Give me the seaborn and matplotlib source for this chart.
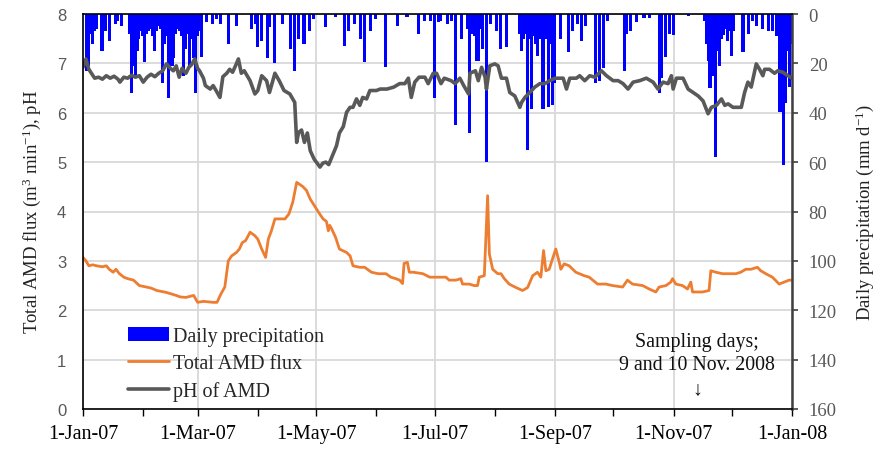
import numpy as np
import pandas as pd
import matplotlib
matplotlib.use("Agg")
import matplotlib.pyplot as plt
import matplotlib.dates as mdates
from matplotlib.patches import Patch
from matplotlib.lines import Line2D
import seaborn as sns

# ---------------- data (day offset from 1-Jan-2007, value) ----------------
start_date = "2007-01-01"
end_date = "2008-01-01"

precip_day = [1, 2, 3, 4, 5, 6, 9, 11, 13, 16, 17, 19, 23, 24, 25, 26, 27, 28, 29, 30,
              31, 32, 33, 34, 35, 36, 37, 38, 39, 40, 41, 42, 43, 44, 45, 46, 47, 48, 49, 50,
              51, 52, 53, 54, 55, 56, 57, 58, 59, 60, 63, 66, 68, 70, 74, 78, 86, 88, 89, 91,
              94, 95, 98, 102, 106, 108, 110, 113, 116, 118, 124, 129, 134, 136, 139, 142, 144, 147, 150, 155,
              161, 166, 172, 175, 178, 180, 182, 183, 187, 189, 191, 194, 197, 198, 199, 200, 201, 202, 203, 204,
              205, 207, 209, 212, 214, 217, 224, 225, 226, 227, 228, 229, 230, 231, 232, 233, 234, 235, 236, 237,
              238, 239, 240, 241, 242, 245, 249, 251, 254, 256, 258, 263, 265, 267, 269, 278, 279, 281, 284, 288,
              291, 296, 297, 299, 301, 303, 311, 319, 320, 321, 322, 323, 324, 325, 326, 327, 328, 329, 330, 331,
              332, 333, 334, 339, 342, 344, 346, 349, 352, 354, 356, 357, 358, 359, 360, 361, 362, 363, 364]
precip_mm = [23, 21, 8, 12, 7, 6, 15, 7, 11, 4, 3, 5, 8, 32, 21, 25, 15, 10, 7, 9,
             19.5, 8, 7, 6, 9, 15, 7, 5, 6, 28, 12, 9, 34, 12, 21, 18, 8, 6, 7, 9,
             25, 14, 8, 21, 10, 18, 32, 9, 7, 17.5, 3.4, 4, 2, 4, 12, 4.7, 6, 4, 13.5, 11,
             18, 5.4, 20, 4, 14, 23, 10, 12, 7, 2, 5.4, 1.4, 13, 7, 4, 10, 19.5, 7, 2, 21.6,
             4.7, 1.4, 8, 2.7, 2.7, 34, 3.4, 3, 4, 3, 45, 10, 6, 48, 8, 7, 9, 19, 19, 6,
             14, 60, 4, 7, 14, 13.5, 8, 15, 10, 8, 55, 10, 38.5, 9, 12, 17, 6, 10, 38.5, 8,
             10, 37.5, 12, 37, 28, 10, 15.5, 7, 4, 11, 5, 28, 27, 22, 3, 23, 8, 7, 3.4, 1.5,
             1.5, 32, 26, 17.5, 8, 8.5, 1, 3, 12, 19, 30, 22, 25, 58, 15, 21, 10, 8.5, 6, 11,
             7, 17, 7, 15.5, 8, 3, 4.7, 6, 6.7, 7, 8.8, 9, 39.5, 20, 61, 36, 15, 29.5, 12]

flux_day = [0, 1.5, 3, 5, 7, 10, 12, 13.5, 15.5, 17, 18.5, 21, 23, 26, 29, 32.5, 35, 38, 43, 48,
            50, 53, 57, 59, 62, 64.5, 67, 69, 71, 73, 74.8, 76.5, 79, 80.5, 82, 83.7, 86, 88.5, 90, 92,
            94, 95.4, 97, 98.8, 101, 104, 106, 108, 110, 111.5, 113, 115, 117, 119.6, 121.5, 123.6, 125.3, 126.3, 127, 128,
            130, 132, 135.7, 137.5, 139, 142.5, 145, 148.5, 152, 156, 158.5, 161, 163, 164.5, 165.3, 167, 168, 170, 175, 178.5,
            182, 186.8, 188.5, 192, 194.5, 195.4, 198.8, 201.4, 203.1, 204, 206.6, 208.3, 209.2, 210.9, 213.5, 215.2, 216.9, 219.4, 222.9, 226.3,
            228.9, 231.5, 234, 235.7, 237.1, 238.3, 240, 241.7, 243.4, 245.2, 246, 247.7, 250.3, 253.7, 258, 260.6, 264.9, 269.2, 272.6, 277.8,
            280.3, 282.9, 288.1, 291.5, 294.9, 296.6, 300.1, 302.6, 303.5, 305.2, 308.6, 311.2, 312.9, 313.8, 318.9, 322.3, 323.2, 325.8, 329.2, 336.1,
            338.6, 341.2, 343.8, 347.2, 348.9, 351.5, 354.9, 358.4, 361, 363.5, 365]
flux_val = [3.07, 3.0, 2.90, 2.92, 2.90, 2.88, 2.90, 2.83, 2.77, 2.83, 2.75, 2.67, 2.64, 2.61, 2.50, 2.47, 2.45, 2.40, 2.36, 2.30,
            2.27, 2.26, 2.30, 2.16, 2.18, 2.17, 2.16, 2.16, 2.33, 2.47, 3.0, 3.10, 3.17, 3.24, 3.37, 3.41, 3.58, 3.51, 3.44, 3.24,
            3.07, 3.44, 3.61, 3.85, 3.85, 3.85, 3.95, 4.19, 4.59, 4.55, 4.51, 4.43, 4.25, 4.09, 3.97, 3.85, 3.80, 3.61, 3.72, 3.65,
            3.48, 3.24, 3.17, 3.10, 2.90, 2.87, 2.87, 2.77, 2.74, 2.74, 2.67, 2.64, 2.61, 2.54, 2.95, 2.97, 2.77, 2.77, 2.74, 2.67,
            2.67, 2.67, 2.61, 2.61, 2.64, 2.53, 2.53, 2.50, 2.50, 2.67, 2.70, 4.32, 3.14, 2.83, 2.74, 2.74, 2.64, 2.53, 2.46, 2.40,
            2.46, 2.70, 2.77, 2.67, 3.21, 2.80, 2.83, 3.04, 3.24, 2.97, 2.83, 2.94, 2.90, 2.77, 2.70, 2.67, 2.53, 2.53, 2.50, 2.47,
            2.61, 2.53, 2.50, 2.43, 2.37, 2.47, 2.50, 2.57, 2.64, 2.53, 2.50, 2.43, 2.57, 2.37, 2.37, 2.40, 2.80, 2.77, 2.74, 2.74,
            2.77, 2.83, 2.83, 2.87, 2.80, 2.74, 2.67, 2.53, 2.57, 2.61, 2.61]

ph_day = [0, 1.5, 3, 6, 8, 10, 12, 14, 16, 18, 19, 21, 23, 25, 27, 29, 31, 33, 35, 37,
          39, 41, 43, 45, 46.5, 48, 49.5, 51, 53, 54.5, 56, 57.5, 59, 60, 62, 63, 65.5, 67, 68.5, 70.5,
          72, 74, 75.5, 77, 78.5, 80, 81.5, 83, 84.5, 86, 88.5, 90, 92, 94.5, 96, 98.8, 101, 103.5, 106.5, 109,
          110, 111, 112.5, 114, 115.5, 117, 119, 122, 123.5, 125, 126.5, 128.8, 130.5, 132, 134, 135.7, 137.5, 139, 140.8, 142.5,
          144, 146, 147.7, 151, 153, 156.5, 160, 163, 165.7, 167.5, 169, 170.8, 173, 176, 177.7, 180.3, 182, 184.3, 186, 189.5,
          191.6, 194, 196, 198.5, 199.2, 202, 203.5, 205.2, 207, 207.7, 209.4, 212, 213.7, 215.4, 218, 219.7, 222.3, 224.9, 225.8, 227.5,
          230, 232.6, 235.2, 237.8, 240.3, 243, 247.2, 248.9, 250.6, 254, 255.7, 258.3, 260.9, 263.5, 266.9, 269.5, 272.9, 275.5, 278, 280.6,
          283.2, 286.6, 290, 293.5, 296, 298.6, 301.2, 302.9, 303.8, 305.5, 308.9, 311.5, 314.1, 316.7, 319.2, 321.8, 323.5, 326.1, 328.7, 330.4,
          332.1, 334.6, 338.9, 340.6, 342.3, 344, 346.6, 348.3, 350, 350.9, 353.4, 356, 357.7, 360.3, 362.9, 365]
ph_val = [6.92, 7.09, 6.88, 6.70, 6.72, 6.68, 6.75, 6.70, 6.74, 6.68, 6.62, 6.72, 6.70, 6.76, 6.72, 6.75, 6.62, 6.72, 6.78, 6.73,
          6.80, 6.85, 6.99, 6.90, 6.85, 6.95, 6.72, 6.90, 6.80, 6.92, 6.98, 7.09, 6.90, 6.85, 6.70, 6.55, 6.48, 6.55, 6.45, 6.31,
          6.73, 6.80, 6.88, 6.82, 6.95, 7.09, 6.80, 6.85, 6.75, 6.65, 6.38, 6.45, 6.75, 6.65, 6.41, 6.80, 6.65, 6.45, 6.38, 6.21,
          5.40, 5.60, 5.65, 5.40, 5.59, 5.23, 5.06, 4.90, 4.98, 5.00, 4.95, 5.17, 5.33, 5.59, 5.72, 6.01, 6.11, 6.11, 6.28, 6.15,
          6.31, 6.28, 6.45, 6.45, 6.48, 6.48, 6.52, 6.59, 6.59, 6.70, 6.31, 6.62, 6.72, 6.72, 6.59, 6.80, 6.80, 6.59, 6.70, 6.65,
          6.59, 6.70, 6.55, 6.38, 6.80, 6.85, 6.65, 6.92, 6.72, 6.48, 6.95, 6.99, 6.95, 6.70, 6.70, 6.41, 6.34, 6.11, 6.21, 6.31,
          6.41, 6.52, 6.59, 6.59, 6.65, 6.70, 6.70, 6.48, 6.70, 6.70, 6.75, 6.65, 6.75, 6.72, 6.85, 6.75, 6.65, 6.65, 6.59, 6.48,
          6.62, 6.65, 6.70, 6.62, 6.48, 6.62, 6.59, 6.75, 6.48, 6.70, 6.70, 6.48, 6.41, 6.34, 6.24, 5.98, 6.11, 6.15, 6.28, 6.15,
          6.18, 6.11, 6.11, 6.41, 6.62, 6.52, 6.99, 6.88, 6.75, 6.88, 6.88, 6.80, 6.85, 6.82, 6.75, 6.70]

series_labels = ["Daily precipitation", "Total AMD flux", "pH of AMD"]
left_ticks = [0, 1, 2, 3, 4, 5, 6, 7, 8]
right_ticks = [0, 20, 40, 60, 80, 100, 120, 140, 160]

# ---------------- style ----------------
sns.set_theme(style="white")
plt.rcParams["font.family"] = ["Liberation Serif", "DejaVu Serif"]
plt.rcParams["mathtext.fontset"] = "custom"
plt.rcParams["mathtext.rm"] = "Liberation Serif"
plt.rcParams["mathtext.it"] = "Liberation Serif:italic"
plt.rcParams["mathtext.bf"] = "Liberation Serif:bold"

BLUE = "#0000FF"
ORANGE = "#ED7D31"
GRAY = "#595959"
GRID = "#D9D9D9"

t0 = pd.Timestamp(start_date)
def to_dates(days):
    return t0 + pd.to_timedelta(np.asarray(days, dtype=float), unit="D")

precip_df = pd.DataFrame({"date": to_dates(precip_day), "mm": precip_mm})
flux_df = pd.DataFrame({"date": to_dates(flux_day), "flux": flux_val})
ph_df = pd.DataFrame({"date": to_dates(ph_day), "ph": ph_val})

W, H = 876, 452
fig = plt.figure(figsize=(W / 100, H / 100), dpi=100)
L, R, T, B = 83, 792, 15, 410
ax = fig.add_axes([L / W, 1 - B / H, (R - L) / W, (B - T) / H])
ax2 = ax.twinx()

# precipitation on host axes (right side, inverted)
ax.bar(precip_df["date"], precip_df["mm"], width=1.6, color=BLUE, linewidth=0, align="edge")
ax.set_ylim(160, 0)
ax.set_yticks(right_ticks)
ax.set_xlim(t0, pd.Timestamp(end_date))
ax.xaxis.set_major_locator(mdates.MonthLocator(bymonth=[1, 3, 5, 7, 9, 11]))
ax.xaxis.set_major_formatter(mdates.DateFormatter("%-d-%b-%y"))
ax.xaxis.set_minor_locator(mdates.MonthLocator())
ax.grid(True, which="major", color=GRID, linewidth=1.3)
ax.set_axisbelow(True)
ax.tick_params(axis="x", which="both", direction="out", length=5, width=1, color="black",
               bottom=True, labelsize=14.5, labelcolor="black", pad=6)
ax.yaxis.tick_right()
ax.yaxis.set_label_position("right")
ax.tick_params(axis="y", which="both", direction="out", length=4, width=1.2, color="#404040",
               right=True, left=False, labelright=True, labelleft=False,
               labelsize=13.5, labelcolor=GRAY, pad=8)
ax.set_xlabel("")
ax.set_ylabel("Daily precipitation (mm d$^{-1}$)", fontsize=13.5, color="#222222", labelpad=12)
for s in ax.spines.values():
    s.set_visible(False)

# lines on twin axes (left side)
sns.lineplot(data=flux_df, x="date", y="flux", ax=ax2, color=ORANGE, linewidth=2.0,
             estimator=None, sort=False)
sns.lineplot(data=ph_df, x="date", y="ph", ax=ax2, color=GRAY, linewidth=2.6,
             estimator=None, sort=False)
ax2.set_ylim(0, 8)
ax2.set_yticks(left_ticks)
ax2.set_xlim(t0, pd.Timestamp(end_date))
ax2.yaxis.tick_left()
ax2.yaxis.set_label_position("left")
ax2.tick_params(axis="y", which="both", length=0, labelsize=12, labelcolor=GRAY,
                labelfontfamily="Liberation Sans", pad=12, left=True, right=False,
                labelleft=True, labelright=False)
ax2.set_xlabel("")
ax2.set_ylabel("Total AMD flux (m$^3$ min$^{-1}$), pH", fontsize=13.5, color="#222222", labelpad=10)
for name, s in ax2.spines.items():
    s.set_visible(True)
    s.set_color("black")
    s.set_linewidth(1.2)
ax2.spines["right"].set_color("#404040")
ax2.spines["right"].set_linewidth(1.8)

handles = [Patch(facecolor=BLUE, edgecolor="none"),
           Line2D([], [], color=ORANGE, linewidth=2.0),
           Line2D([], [], color=GRAY, linewidth=2.6)]
leg = ax2.legend(handles, series_labels, loc="upper left",
                 bbox_to_anchor=((128 - L) / (R - L), (B - 328) / (B - T)),
                 frameon=False, fontsize=14.5, handlelength=2.05, handleheight=0.65,
                 handletextpad=0.2, labelspacing=0.4, borderpad=0, borderaxespad=0)

ax2.text((697 - L) / (R - L), (B - 366) / (B - T),
         "Sampling days;\n9 and 10 Nov. 2008\n\u2193",
         transform=ax2.transAxes, ha="center", va="center", fontsize=14.3,
         linespacing=1.3, color="#111111")

fig.savefig("out.png", dpi=100)
